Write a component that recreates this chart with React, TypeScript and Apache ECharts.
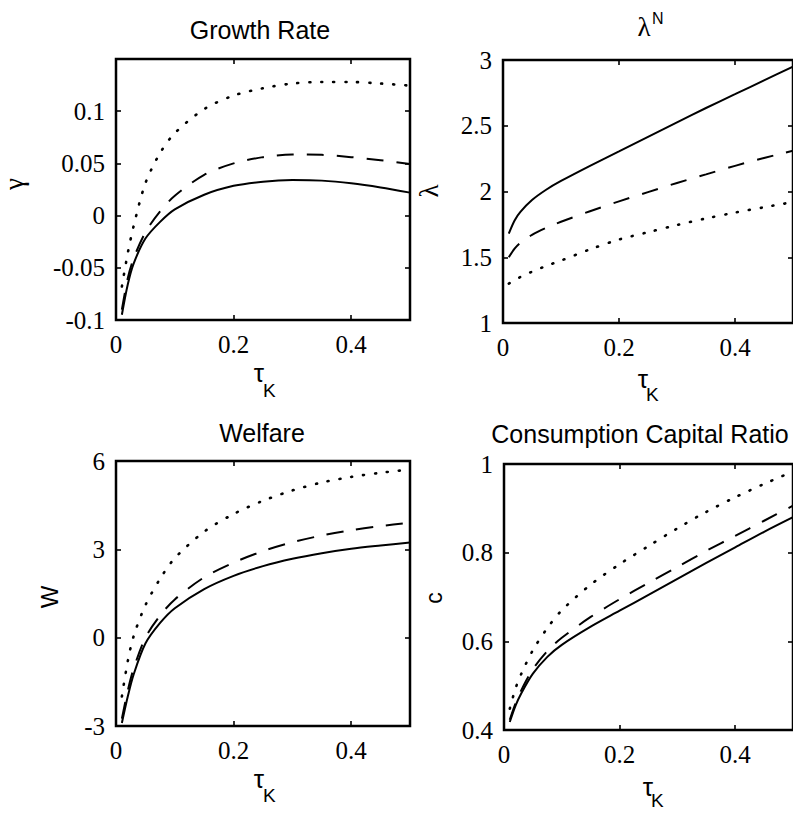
import React, { useEffect, useRef } from "react";
import * as echarts from "echarts";

// capital tax rate tau_K (x values read at these points)
const tau = [0.01, 0.02, 0.03, 0.05, 0.075, 0.1, 0.15, 0.2, 0.25, 0.3, 0.35, 0.4, 0.45, 0.5];

// Growth Rate (gamma)
const growthSolid = [-0.095, -0.066, -0.046, -0.022, -0.006, 0.006, 0.020, 0.0285, 0.0325, 0.034, 0.0335, 0.031, 0.027, 0.022];
const growthDashed = [-0.09, -0.06, -0.041, -0.016, 0.004, 0.019, 0.039, 0.050, 0.056, 0.0585, 0.0582, 0.056, 0.053, 0.0495];
const growthDotted = [-0.068, -0.036, -0.01, 0.031, 0.060, 0.079, 0.102, 0.115, 0.122, 0.1265, 0.128, 0.128, 0.1265, 0.1245];

// lambda^N
const lambdaSolid = [1.68, 1.78, 1.845, 1.935, 2.015, 2.08, 2.195, 2.305, 2.415, 2.525, 2.635, 2.74, 2.845, 2.95];
const lambdaDashed = [1.50, 1.565, 1.61, 1.67, 1.725, 1.77, 1.85, 1.925, 1.995, 2.065, 2.13, 2.195, 2.255, 2.31];
const lambdaDotted = [1.30, 1.325, 1.35, 1.39, 1.435, 1.475, 1.56, 1.635, 1.69, 1.745, 1.795, 1.84, 1.88, 1.92];

// Welfare
const welfareSolid = [-2.9, -2.0, -1.25, -0.2, 0.5, 1.0, 1.65, 2.1, 2.43, 2.68, 2.87, 3.02, 3.13, 3.23];
const welfareDashed = [-2.75, -1.8, -1.05, 0.0, 0.75, 1.3, 2.05, 2.55, 2.94, 3.24, 3.47, 3.65, 3.79, 3.9];
const welfareDotted = [-2.0, -0.8, 0.05, 1.1, 2.0, 2.7, 3.6, 4.2, 4.65, 5.0, 5.27, 5.46, 5.6, 5.71];

// Consumption Capital Ratio
const ccrSolid = [0.418, 0.455, 0.483, 0.527, 0.565, 0.592, 0.633, 0.669, 0.705, 0.741, 0.777, 0.812, 0.847, 0.880];
const ccrDashed = [0.423, 0.46, 0.49, 0.537, 0.578, 0.608, 0.655, 0.695, 0.732, 0.768, 0.804, 0.838, 0.872, 0.906];
const ccrDotted = [0.448, 0.494, 0.527, 0.58, 0.63, 0.67, 0.728, 0.774, 0.815, 0.855, 0.892, 0.925, 0.955, 0.983];

// axis scales per panel
const yMins = [-0.1, 1, -3, 0.4];
const yMaxs = [0.15, 3, 6, 1];
const yIntervals = [0.05, 0.5, 3, 0.2];
const yShowMax = [false, true, true, true];
const xMin = 0;
const xMax = 0.5;
const xInterval = 0.2;

const panelSeries = [
  [growthSolid, growthDashed, growthDotted],
  [lambdaSolid, lambdaDashed, lambdaDotted],
  [welfareSolid, welfareDashed, welfareDotted],
  [ccrSolid, ccrDashed, ccrDotted],
];

const grids = [
  { left: 116, top: 59, width: 294, height: 261 },
  { left: 503, top: 60, width: 294, height: 263 },
  { left: 116, top: 461, width: 294, height: 265 },
  { left: 504, top: 464, width: 294, height: 266 },
];

const SERIF = "Liberation Serif";
const SANS = "Liberation Sans";

const lineStyles = [
  { type: "solid", width: 2 },
  { type: [17, 13], width: 2 },
  { type: [1, 11], width: 2.6, cap: "round" },
];

function buildOption() {
  const xAxis: any[] = [];
  const yAxis: any[] = [];
  const series: any[] = [];
  const tick = { show: true, inside: true, length: 5, lineStyle: { color: "#000", width: 1.6 } };
  const noLine = { show: false, onZero: false };
  grids.forEach((_, i) => {
    xAxis.push({
      type: "value", gridIndex: i, min: xMin, max: xMax, interval: xInterval, position: "bottom",
      axisLine: noLine, axisTick: tick, splitLine: { show: false },
      axisLabel: { show: true, showMaxLabel: false, margin: 12, color: "#000", fontFamily: SERIF, fontSize: 25 },
    });
    xAxis.push({
      type: "value", gridIndex: i, min: xMin, max: xMax, interval: xInterval, position: "top",
      axisLine: noLine, axisTick: tick, splitLine: { show: false }, axisLabel: { show: false },
    });
    yAxis.push({
      type: "value", gridIndex: i, min: yMins[i], max: yMaxs[i], interval: yIntervals[i], position: "left",
      axisLine: noLine, axisTick: tick, splitLine: { show: false },
      axisLabel: { show: true, showMaxLabel: yShowMax[i], margin: 11, color: "#000", fontFamily: SERIF, fontSize: 25 },
    });
    yAxis.push({
      type: "value", gridIndex: i, min: yMins[i], max: yMaxs[i], interval: yIntervals[i], position: "right",
      axisLine: noLine, axisTick: tick, splitLine: { show: false }, axisLabel: { show: false },
    });
    panelSeries[i].forEach((vals, k) => {
      series.push({
        type: "line", xAxisIndex: 2 * i, yAxisIndex: 2 * i,
        data: tau.map((t, j) => [t, vals[j]]),
        showSymbol: false, smooth: 0.3,
        lineStyle: { color: "#000", ...lineStyles[k] },
        z: 3,
      });
    });
  });

  const txt = (text: string, x: number, y: number, font: string, size: number, opts: any = {}) => ({
    type: "text", x, y, rotation: opts.rotation || 0,
    style: {
      text, fill: "#000", fontFamily: font, fontSize: size,
      textAlign: opts.align || "center", textVerticalAlign: "middle",
    },
  });

  const graphic = [
    txt("Growth Rate", 260, 30, SANS, 25),
    txt("Welfare", 262, 433, SANS, 25),
    txt("Consumption Capital Ratio", 640, 434, SANS, 25),
    txt("λ", 644, 27, SERIF, 27),
    txt("N", 652, 18, SANS, 16, { align: "left" }),
    txt("γ", 14, 184, SERIF, 27, { rotation: Math.PI / 2 }),
    txt("λ", 429, 191, SERIF, 27, { rotation: Math.PI / 2 }),
    txt("W", 49, 597, SANS, 24, { rotation: Math.PI / 2 }),
    txt("c", 434, 598, SANS, 23, { rotation: Math.PI / 2 }),
    // tau_K labels
    txt("τ", 259, 373, SANS, 26),
    txt("K", 263, 390, SANS, 19, { align: "left" }),
    txt("τ", 643, 379, SANS, 26),
    txt("K", 646, 394, SANS, 19, { align: "left" }),
    txt("τ", 259, 779, SANS, 26),
    txt("K", 263, 795, SANS, 19, { align: "left" }),
    txt("τ", 648, 787, SANS, 26),
    txt("K", 651, 800, SANS, 19, { align: "left" }),
  ];

  return {
    animation: false,
    backgroundColor: "#fff",
    grid: grids.map((g) => ({ ...g, show: true, borderColor: "#000", borderWidth: 2.5, backgroundColor: "transparent", containLabel: false })),
    xAxis,
    yAxis,
    series,
    graphic,
  };
}

export default function App() {
  const ref = useRef<HTMLDivElement>(null);
  useEffect(() => {
    if (!ref.current) return;
    const chart = echarts.init(ref.current, undefined, { renderer: "svg" });
    chart.setOption(buildOption() as any);
    return () => chart.dispose();
  }, []);
  return (
    <div
      ref={ref}
      style={{ position: "absolute", left: 0, top: 0, width: 793, height: 813, background: "#fff" }}
    />
  );
}
